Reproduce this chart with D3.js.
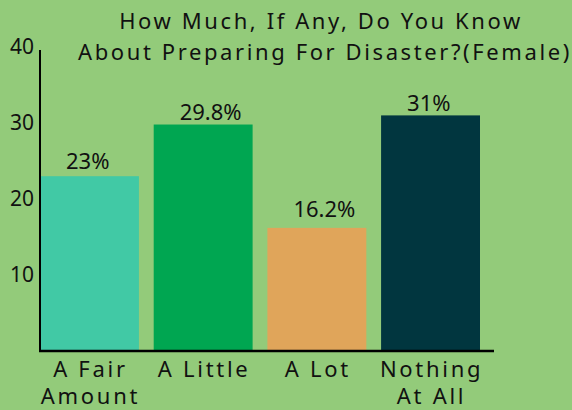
<!DOCTYPE html>
<html lang="en">
<head>
<meta charset="UTF-8"/>
<title>Preparing For Disaster (Female)</title>
<script src="https://d3js.org/d3.v7.min.js"></script>
<style>
    body { margin: 0; background: #93cb7a; }
    svg { display: block; font-family: "Noto Sans", "Open Sans", sans-serif; }
</style>
</head>
<body>
<script>
    var categories = ["A Fair Amount", "A Little", "A Lot", "Nothing At All"];
    var labelLines = [["A Fair", "Amount"], ["A Little"], ["A Lot"], ["Nothing", "At All"]];
    var values = [23, 29.8, 16.2, 31];
    var valueLabels = ["23%", "29.8%", "16.2%", "31%"];
    var colors = ["#41c9a5", "#00a651", "#e0a55a", "#01363f"];
    var yTicks = [10, 20, 30, 40];

    var w = 572;
    var h = 410;

    var svg = d3.select("body")
                .append("svg")
                .attr("width", w)
                .attr("height", h);

    svg.append("rect")
        .attr("width", w)
        .attr("height", h)
        .attr("fill", "#93cb7a");

    var xScale = d3.scaleBand()
                    .domain(categories)
                    .range([40, 480])
                    .paddingInner(0.13)
                    .paddingOuter(0);

    var yScale = d3.scaleLinear()
                    .domain([0, 40])
                    .range([351, 47]);

    // the value labels sit on their own, slightly compressed scale
    var labelScale = d3.scaleLinear()
                    .domain([0, 40])
                    .range([333, 47]);

    // title
    var title = svg.append("text")
        .attr("text-anchor", "middle")
        .attr("font-size", "22px")
        .attr("letter-spacing", "2.6px")
        .attr("fill", "#111");
    title.append("tspan").attr("x", 321).attr("y", 29).text("How Much, If Any, Do You Know");
    title.append("tspan").attr("x", 325).attr("y", 60).text("About Preparing For Disaster?(Female)");

    // bars
    svg.selectAll("rect.bar")
        .data(values)
        .enter()
        .append("rect")
        .attr("class", "bar")
        .attr("x", function(d, i) { return xScale(categories[i]); })
        .attr("y", function(d) { return yScale(d); })
        .attr("width", xScale.bandwidth())
        .attr("height", function(d) { return yScale(0) - yScale(d); })
        .attr("fill", function(d, i) { return colors[i]; });

    // value labels
    svg.selectAll("text.val")
        .data(values)
        .enter()
        .append("text")
        .attr("class", "val")
        .attr("x", function(d, i) { return xScale(categories[i]) + 26; })
        .attr("y", function(d) { return labelScale(d); })
        .attr("text-anchor", "start")
        .attr("font-size", "22px")
        .attr("fill", "#111")
        .text(function(d, i) { return valueLabels[i]; });

    // y axis
    var yAxis = d3.axisLeft(yScale)
                  .tickValues(yTicks)
                  .tickSize(0)
                  .tickPadding(6);
    var gy = svg.append("g")
        .attr("transform", "translate(40,0)")
        .call(yAxis);
    gy.select(".domain").remove();
    gy.selectAll("text")
        .attr("font-size", "21px")
        .attr("font-family", "Noto Sans, sans-serif")
        .attr("fill", "#111");

    svg.append("line")
        .attr("x1", 40).attr("x2", 40)
        .attr("y1", 50).attr("y2", yScale(0))
        .attr("stroke", "#000")
        .attr("stroke-width", 2);

    // x axis
    svg.append("line")
        .attr("x1", 39).attr("x2", 494)
        .attr("y1", yScale(0)).attr("y2", yScale(0))
        .attr("stroke", "#000")
        .attr("stroke-width", 2.5);

    var xl = svg.selectAll("text.xl")
        .data(labelLines)
        .enter()
        .append("text")
        .attr("class", "xl")
        .attr("text-anchor", "middle")
        .attr("font-size", "22px")
        .attr("letter-spacing", "2.7px")
        .attr("fill", "#111");
    xl.each(function(lines, i) {
        var cx = xScale(categories[i]) + xScale.bandwidth() / 2 + 1;
        d3.select(this).selectAll("tspan")
            .data(lines)
            .enter()
            .append("tspan")
            .attr("x", cx)
            .attr("y", function(d, j) { return 377 + j * 27; })
            .text(function(d) { return d; });
    });
</script>
</body>
</html>
